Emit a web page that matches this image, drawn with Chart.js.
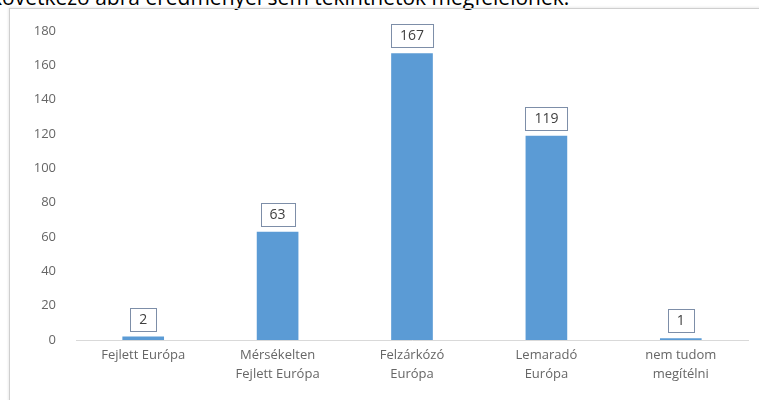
<!DOCTYPE html>
<html>
<head>
<meta charset="utf-8">
<script src="https://cdn.jsdelivr.net/npm/chart.js@4/dist/chart.umd.min.js"></script>
<style>
  html, body { margin: 0; padding: 0; background: #fff; }
  body { width: 759px; height: 400px; position: relative; overflow: hidden; }
  /* cut-off line of the surrounding document text */
  .doc-line {
    position: absolute; left: -9px; top: -14px; white-space: nowrap;
    font-family: 'Open Sans', sans-serif; font-size: 21px; line-height: 22px; color: #000;
  }
  .frame {
    position: absolute; left: 9px; top: 8px; width: 800px; height: 420px;
    border-left: 1px solid #cfcfcf; border-top: 1px solid #cfcfcf;
    box-shadow: -1px -1px 2px rgba(0,0,0,0.08);
  }
  #chart { position: absolute; left: 0; top: 0; }
</style>
</head>
<body>
<div class="doc-line">következő ábra eredményei sem tekinthetők megfelelőnek.</div>
<div class="frame"></div>
<canvas id="chart" width="759" height="400"></canvas>
<script>
// ── Data ─────────────────────────────────────────────────────
const categories = [
    ['Fejlett Európa'],
    ['Mérsékelten', 'Fejlett Európa'],
    ['Felzárkózó', 'Európa'],
    ['Lemaradó', 'Európa'],
    ['nem tudom', 'megítélni']
];
const answers   = [2, 63, 167, 119, 1];
const yTicks    = [0, 20, 40, 60, 80, 100, 120, 140, 160, 180];

// ── Boxed value labels above bars ────────────────────────────
const boxedLabels = {
    id: 'boxedLabels',
    afterDatasetsDraw(chart) {
        const ctx = chart.ctx;
        const meta = chart.getDatasetMeta(0);
        ctx.save();
        ctx.font = "14px 'Open Sans', sans-serif";
        ctx.textAlign = 'center';
        ctx.textBaseline = 'middle';
        meta.data.forEach((bar, i) => {
            const txt = String(answers[i]);
            const w = ctx.measureText(txt).width + 18;
            const h = 23;
            const bx = Math.round(bar.x - w / 2) + 0.5;
            const by = Math.round(bar.y - 6 - h) + 0.5;
            ctx.fillStyle = '#fff';
            ctx.fillRect(bx, by, w, h);
            ctx.strokeStyle = '#7d8ea8';
            ctx.lineWidth = 1;
            ctx.strokeRect(bx, by, w, h);
            ctx.fillStyle = '#404040';
            ctx.fillText(txt, bar.x, by + h / 2 + 0.5);
        });
        ctx.restore();
    }
};

new Chart(document.getElementById('chart'), {
    type: 'bar',
    data: {
        labels: categories,
        datasets: [{
            data: answers,
            backgroundColor: '#5b9bd5',
            barPercentage: 0.31,
            categoryPercentage: 1
        }]
    },
    options: {
        responsive: false,
        animation: false,
        events: [],
        layout: { padding: { left: 0, right: 11, top: 31, bottom: 0 } },
        plugins: { legend: { display: false }, tooltip: { enabled: false } },
        scales: {
            y: {
                min: 0, max: 180,
                afterBuildTicks: s => { s.ticks = yTicks.map(v => ({ value: v })); },
                afterFit: s => { s.width = 76; },
                grid: { display: false, drawTicks: false },
                border: { display: false },
                ticks: { color: '#666', padding: 20, font: { family: "'Open Sans', sans-serif", size: 13 } }
            },
            x: {
                afterFit: s => { s.height = 60; },
                grid: { display: false, drawTicks: false },
                border: { display: true, color: '#d9d9d9' },
                ticks: {
                    color: '#666', padding: 6, maxRotation: 0, autoSkip: false,
                    font: { family: "'Open Sans', sans-serif", size: 13, lineHeight: 1.45 }
                }
            }
        }
    },
    plugins: [boxedLabels]
});
</script>
</body>
</html>
